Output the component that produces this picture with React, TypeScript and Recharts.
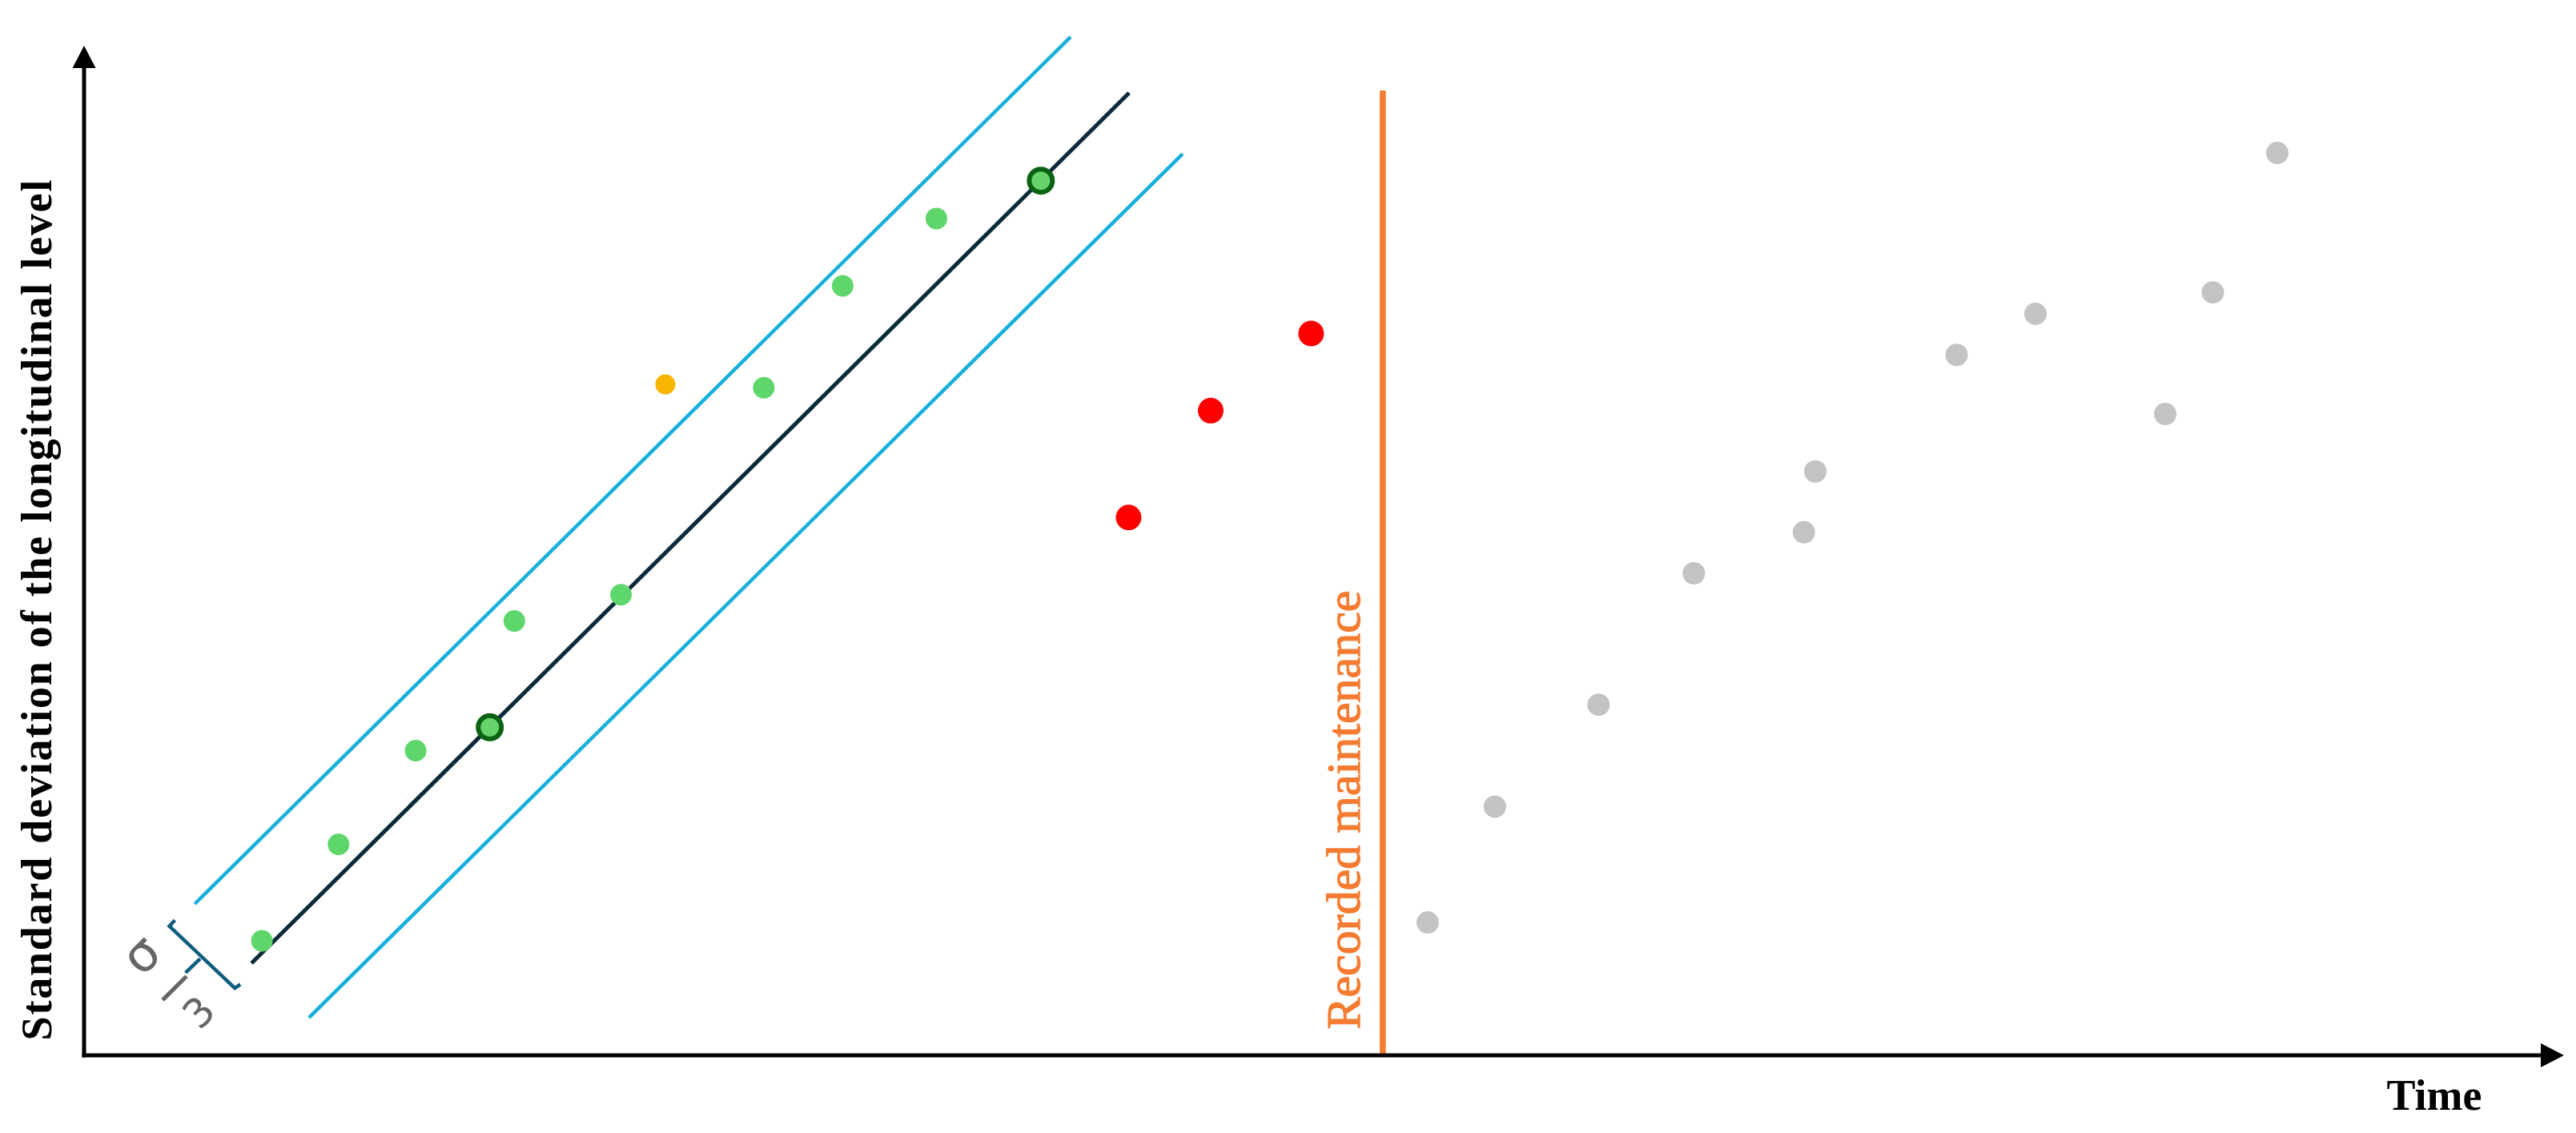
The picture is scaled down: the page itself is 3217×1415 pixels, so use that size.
import React from 'react';
import { ComposedChart, XAxis, YAxis, Scatter, Line, ReferenceLine, ReferenceDot } from 'recharts';

// Data (x = time units 0..100, y = std. deviation units 0..100)
const greenPoints = [
  { x: 7.17, y: 11.34 }, { x: 10.26, y: 20.89 }, { x: 13.37, y: 30.17 }, { x: 17.35, y: 43.02 },
  { x: 21.65, y: 45.62 }, { x: 27.41, y: 66.12 }, { x: 30.59, y: 76.21 }, { x: 34.37, y: 82.88 },
];
const keyPoints = [{ x: 16.36, y: 32.49 }, { x: 38.58, y: 86.62 }];
const outlierPoints = [{ x: 23.44, y: 66.45 }];
const alarmPoints = [{ x: 42.12, y: 53.27 }, { x: 45.43, y: 63.85 }, { x: 49.48, y: 71.49 }];
const afterPoints = [
  { x: 54.18, y: 13.16 }, { x: 56.89, y: 24.63 }, { x: 61.07, y: 34.72 }, { x: 64.91, y: 47.74 },
  { x: 69.35, y: 51.8 }, { x: 69.81, y: 57.83 }, { x: 75.51, y: 69.37 }, { x: 78.69, y: 73.44 },
  { x: 83.92, y: 63.52 }, { x: 85.84, y: 75.56 }, { x: 88.44, y: 89.37 },
];
const trendLine = [{ x: 6.75, y: 9.12 }, { x: 42.14, y: 95.32 }];
const upperBand = [{ x: 4.46, y: 14.99 }, { x: 39.78, y: 100.87 }];
const lowerBand = [{ x: 9.07, y: 3.73 }, { x: 44.3, y: 89.29 }];
const maintenance = [{ x: 52.37, y: 0 }, { x: 52.37, y: 95.56 }];
const bracket = [{ x: 3.66, y: 13.38 }, { x: 3.44, y: 12.79 }, { x: 6.08, y: 6.66 }, { x: 6.3, y: 7.03 }];
const bracketStem = [{ x: 4.68, y: 9.57 }, { x: 4.09, y: 8.17 }];
const fractionPos = { x: 3.65, y: 6.66 };
const xAxisSeg = [{ x: 0, y: 0 }, { x: 99, y: 0 }];
const yAxisSeg = [{ x: 0, y: 0 }, { x: 0, y: 99 }];
const yLabelPos = { x: -1.32, y: 44.17 };
const xLabelPos = { x: 94.77, y: -5.39 };
const maintLabelPos = { x: 51.44, y: 24.3 };

const yLabel = 'Standard deviation of the longitudinal level';
const xLabel = 'Time';
const maintLabel = 'Recorded maintenance';

const dotShape = (r: number, fill: string, stroke?: string, sw?: number) => (p: any) => (
  <circle cx={p.cx} cy={p.cy} r={r} fill={fill} stroke={stroke || 'none'} strokeWidth={sw || 0} />
);

export default function App() {
  return (
    <div style={{ position: 'absolute', left: 0, top: 0, width: 3217, height: 1415, background: '#fff' }}>
      <ComposedChart width={3217} height={1415} margin={{ top: 57, right: 15, bottom: 97, left: 105 }}>
        <XAxis type="number" dataKey="x" domain={[0, 100]} hide allowDataOverflow />
        <YAxis type="number" dataKey="y" domain={[0, 100]} hide allowDataOverflow />

        <Scatter data={greenPoints} fill="#5FD66C" isAnimationActive={false} shape={dotShape(13.5, '#5FD66C')} />
        <Scatter data={keyPoints} fill="#66D46A" isAnimationActive={false} shape={dotShape(14.5, '#66D46A', '#0A6212', 6)} />
        <Scatter data={outlierPoints} fill="#F7B500" isAnimationActive={false} shape={dotShape(12.5, '#F7B500')} />
        <Scatter data={alarmPoints} fill="#FF0000" isAnimationActive={false} shape={dotShape(16, '#FF0000')} />
        <Scatter data={afterPoints} fill="#C3C3C3" isAnimationActive={false} shape={dotShape(14, '#C3C3C3')} />

        <ReferenceLine segment={upperBand} stroke="#18B0DB" strokeWidth={4.5} ifOverflow="visible" />
        <ReferenceLine segment={lowerBand} stroke="#18B0DB" strokeWidth={4.5} ifOverflow="visible" />
        <ReferenceLine segment={trendLine} stroke="#0B2A3A" strokeWidth={5} ifOverflow="visible" />
        <ReferenceLine segment={maintenance} stroke="#F47B30" strokeWidth={7.5} ifOverflow="visible" />

        <Line data={bracket} dataKey="y" stroke="#0D5E7E" strokeWidth={4.5} dot={false} isAnimationActive={false} type="linear" />
        <Line data={bracketStem} dataKey="y" stroke="#0D5E7E" strokeWidth={4.5} dot={false} isAnimationActive={false} type="linear" />

        <ReferenceLine segment={xAxisSeg} stroke="#000" strokeWidth={5} strokeLinecap="square" ifOverflow="visible" />
        <ReferenceLine segment={yAxisSeg} stroke="#000" strokeWidth={5} strokeLinecap="square" ifOverflow="visible" />
        <ReferenceDot x={0} y={100} ifOverflow="visible" shape={(p: any) => (
          <polygon points={`${p.cx},${p.cy} ${p.cx - 14.5},${p.cy + 28} ${p.cx + 14.5},${p.cy + 28}`} fill="#000" />
        )} />
        <ReferenceDot x={100} y={0} ifOverflow="visible" shape={(p: any) => (
          <polygon points={`${p.cx},${p.cy} ${p.cx - 29},${p.cy - 15} ${p.cx - 29},${p.cy + 15}`} fill="#000" />
        )} />

        <ReferenceDot x={fractionPos.x} y={fractionPos.y} ifOverflow="visible" shape={(p: any) => (
          <g transform={`translate(${p.cx},${p.cy}) rotate(-45)`}>
            <text x={0} y={-38} textAnchor="middle" fontSize={62} fill="#666" fontFamily="DejaVu Sans">σ</text>
            <line x1={-21} x2={21} y1={0} y2={0} stroke="#666" strokeWidth={5} />
            <text x={0} y={60} textAnchor="middle" fontSize={50} fill="#666" fontFamily="DejaVu Sans">3</text>
          </g>
        )} />

        <ReferenceDot x={yLabelPos.x} y={yLabelPos.y} ifOverflow="visible" shape={(p: any) => (
          <text x={p.cx} y={p.cy} transform={`rotate(-90, ${p.cx}, ${p.cy})`} textAnchor="middle" fontSize={54}
            letterSpacing={1.8} fontWeight="bold" fontFamily="Liberation Serif" fill="#000">{yLabel}</text>
        )} />
        <ReferenceDot x={xLabelPos.x} y={xLabelPos.y} ifOverflow="visible" shape={(p: any) => (
          <text x={p.cx} y={p.cy} textAnchor="middle" fontSize={54} fontWeight="bold" fontFamily="Liberation Serif" fill="#000">{xLabel}</text>
        )} />
        <ReferenceDot x={maintLabelPos.x} y={maintLabelPos.y} ifOverflow="visible" shape={(p: any) => (
          <text x={p.cx} y={p.cy} transform={`rotate(-90, ${p.cx}, ${p.cy})`} textAnchor="middle" fontSize={60}
            fontFamily="Liberation Serif" fill="#F47B30" stroke="#F47B30" strokeWidth={1.2}>{maintLabel}</text>
        )} />
      </ComposedChart>
    </div>
  );
}
